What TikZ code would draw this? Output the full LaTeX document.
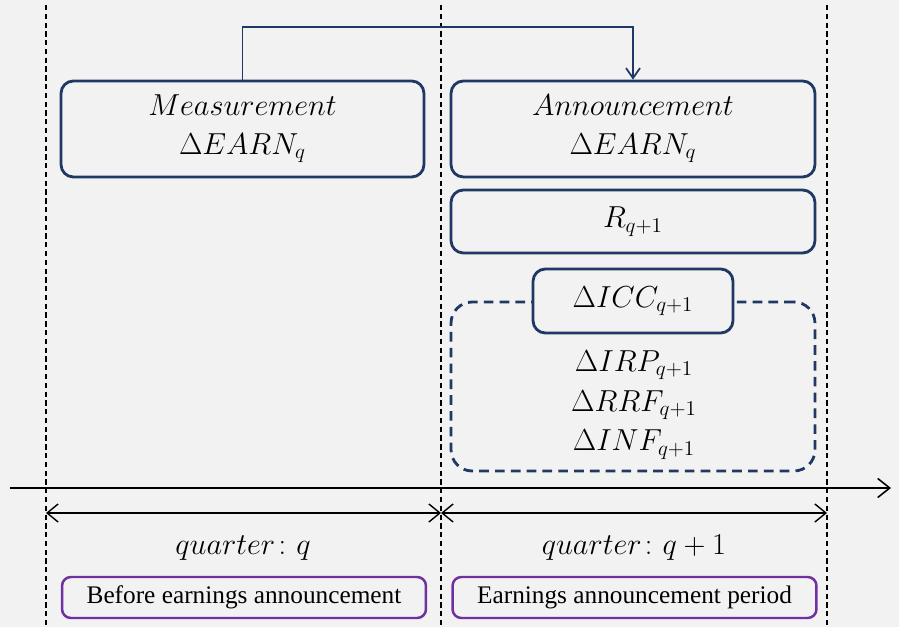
\documentclass[tikz,border=0pt]{standalone}
\usepackage{amsmath}
\usepackage{fontspec}
\newfontfamily\labelfont{Liberation Serif}
\usetikzlibrary{arrows.meta}

\definecolor{navy}{HTML}{1F3864}
\definecolor{plum}{HTML}{7030A0}
\definecolor{paper}{HTML}{F2F2F2}

\tikzset{
  stage/.style={draw=navy, line width=1.6pt, rounded corners=7pt, fill=paper,
    align=center, font=\fontsize{18}{22}\selectfont},
  period/.style={draw=plum, line width=1.4pt, rounded corners=5pt,
    minimum width=7.28cm, minimum height=0.82cm,
    font=\labelfont\fontsize{14.4}{16}\selectfont},
  guide/.style={line width=0.6pt, dash pattern=on 3pt off 2pt},
  span/.style={line width=0.8pt, {Straight Barb[length=2.2mm,width=3.6mm]}-{Straight Barb[length=2.2mm,width=3.6mm]}},
  link/.style={navy, line width=1pt, -{Straight Barb[length=2mm,width=2.8mm]}},
}

\begin{document}
\begin{tikzpicture}[x=0.02cm, y=-0.02cm]
\fill[paper] (0,0) rectangle (899,627);
% quarter boundaries
\foreach \x/\n in {46/a, 441/b, 827/c} {
  \coordinate (top\n) at (\x,5);
  \coordinate (bot\n) at (\x,627);
  \coordinate (q\n) at (\x,513);
  \draw[guide] (top\n) -- (bot\n);
}
% time axis
\coordinate (t0) at (10,488);
\coordinate (t1) at (891,488);
\draw[line width=0.9pt, -{Straight Barb[length=2.4mm,width=3.8mm]}] (t0) -- (t1);
\draw[span] (qa) -- (qb);
\draw[span] (qb) -- (qc);
% boxes above the axis
\node[stage, minimum width=7.26cm, minimum height=1.92cm] (meas) at (242.5,129)
  {$Measurement$\\$\Delta EARN_q$};
\node[stage, minimum width=7.28cm, minimum height=1.92cm] (ann) at (633,129)
  {$Announcement$\\$\Delta EARN_q$};
\node[stage, minimum width=7.28cm, minimum height=1.26cm] (ret) at (633,221.5)
  {$R_{q+1}$};
\node[draw=navy, line width=1.6pt, dash pattern=on 5.5pt off 3.5pt, rounded corners=12pt,
  minimum width=7.28cm, minimum height=3.38cm] (frame) at (633,386.5) {};
\node[stage, minimum width=4cm, minimum height=1.28cm] (icc) at (633,301)
  {$\Delta ICC_{q+1}$};
\node[align=center, font=\fontsize{18}{22.7}\selectfont] (parts) at (634,405)
  {$\Delta IRP_{q+1}$\\$\Delta RRF_{q+1}$\\$\Delta INF_{q+1}$};
\coordinate (hop) at (440,27);
\draw[link] (meas.north) -- (meas.north |- hop) -- (ann.north |- hop) -- (ann.north);
% labels below the axis
\node[font=\fontsize{18}{22}\selectfont] (ql) at (243,548) {$quarter\colon q$};
\node[font=\fontsize{18}{22}\selectfont] (qr) at (634,548) {$quarter\colon q+1$};
\node[period] (before) at (244,597.5) {Before earnings announcement};
\node[period] (during) at (634.5,597.5) {Earnings announcement period};
\end{tikzpicture}
\end{document}
